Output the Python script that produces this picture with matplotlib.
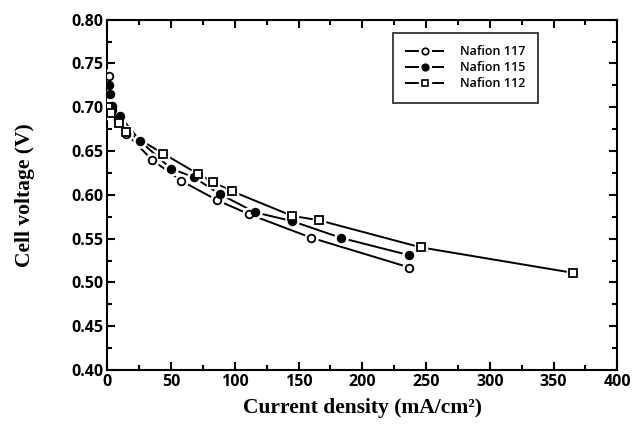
import matplotlib
matplotlib.use("Agg")
import matplotlib.pyplot as plt
from matplotlib.lines import Line2D
from matplotlib.ticker import MultipleLocator
from matplotlib.legend_handler import HandlerTuple

# Data (current density mA/cm2, cell voltage V)
n117_x = [1, 4, 8, 15, 35, 58, 86, 111, 160, 237]
n117_y = [0.736, 0.697, 0.687, 0.670, 0.640, 0.616, 0.594, 0.578, 0.551, 0.517]
n115_x = [1, 2, 4, 10, 26, 50, 68, 88, 116, 145, 183, 237]
n115_y = [0.726, 0.715, 0.701, 0.690, 0.661, 0.630, 0.620, 0.601, 0.580, 0.570, 0.551, 0.531]
n112_x = [0.5, 3, 9, 15, 44, 71, 83, 98, 145, 166, 246, 365]
n112_y = [0.700, 0.693, 0.682, 0.672, 0.647, 0.624, 0.6145, 0.604, 0.576, 0.571, 0.540, 0.511]
labels = ["Nafion 117", "Nafion 115", "Nafion 112"]
yticks = [0.40, 0.45, 0.50, 0.55, 0.60, 0.65, 0.70, 0.75, 0.80]

fig = plt.figure(figsize=(6.32, 4.36), dpi=100)
ax = fig.add_axes([0.1698, 0.1514, 0.8069, 0.8034])

tickfont = ["Open Sans", "DejaVu Sans"]
series = [
    (n117_x, n117_y, "o", "white", 5.5),
    (n115_x, n115_y, "o", "black", 5.5),
    (n112_x, n112_y, "s", "white", 5.2),
]
handles = []
for (xs, ys, mk, fc, ms) in series:
    ax.plot(xs, ys, color="black", lw=1.4, zorder=2)
    ax.plot(xs, ys, ls="none", marker=mk, ms=ms + 4, mfc="white", mec="white", zorder=3)
    ax.plot(xs, ys, ls="none", marker=mk, ms=ms, mfc=fc, mec="black", mew=1.3, zorder=4)
    h_line = Line2D([], [], color="black", lw=1.4)
    h_gap = Line2D([], [], ls="none", marker=mk, ms=ms + 3, mfc="white", mec="white")
    h_mk = Line2D([], [], ls="none", marker=mk, ms=ms - 0.8, mfc=fc, mec="black", mew=1.2)
    handles.append((h_line, h_gap, h_mk))

ax.set_xlim(0, 400)
ax.set_ylim(0.40, 0.80)
ax.xaxis.set_major_locator(MultipleLocator(50))
ax.xaxis.set_minor_locator(MultipleLocator(25))
ax.yaxis.set_minor_locator(MultipleLocator(0.025))
ax.set_yticks(yticks)
ax.set_yticklabels([f"{v:.2f}" for v in yticks])
ax.tick_params(which="both", direction="in", top=True, right=True, width=1.5)
ax.tick_params(which="major", length=6, labelsize=11.5, pad=3)
ax.tick_params(which="minor", length=3.5)
for lab in ax.get_xticklabels() + ax.get_yticklabels():
    lab.set_family(tickfont)
    lab.set_fontweight("bold")
for s in ax.spines.values():
    s.set_linewidth(1.5)

ax.set_xlabel("Current density (mA/cm²)", family="Liberation Serif",
              fontweight="bold", fontsize=15.5, labelpad=6)
ax.set_ylabel("Cell voltage (V)", family="Liberation Serif",
              fontweight="bold", fontsize=15.5, labelpad=26)

leg = ax.legend(handles, labels, handler_map={tuple: HandlerTuple(ndivide=1)},
                loc="upper left", bbox_to_anchor=(0.561, 0.963), borderaxespad=0,
                frameon=True, fancybox=False, edgecolor="black",
                handlelength=3.0, borderpad=1.0, labelspacing=0.25,
                handletextpad=1.3,
                prop={"family": tickfont, "weight": "semibold", "size": 9})
leg.get_frame().set_linewidth(1.3)

fig.savefig("out.png", dpi=100)
